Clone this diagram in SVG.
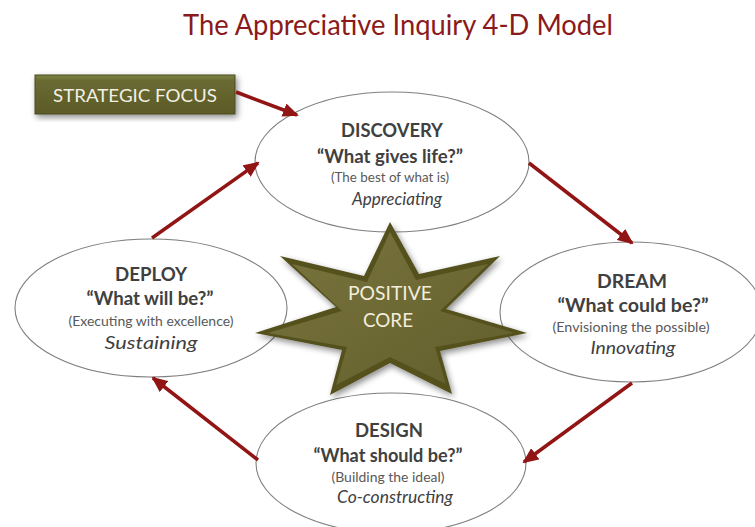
<svg xmlns="http://www.w3.org/2000/svg" width="755" height="527" viewBox="0 0 755 527">
<defs>
<style>
.t{font-family:Lato,"Open Sans","Liberation Sans",sans-serif;text-anchor:middle}
.h{font-weight:bold;font-size:19px;fill:#404040}
.q{font-weight:bold;font-size:18px;fill:#404040}
.s{font-size:13px;fill:#595959}
.i{font-style:italic;font-size:18px;fill:#404040}
.ell{fill:#fff;stroke:#7f7f7f;stroke-width:1.1}
.arr{stroke:#921515;stroke-width:3.5;fill:none;marker-end:url(#ah)}
</style>
<marker id="ah" markerUnits="userSpaceOnUse" markerWidth="16" markerHeight="14" refX="14" refY="7" orient="auto">
<path d="M0,0 L16,7 L0,14 Z" fill="#921515"/>
</marker>
<linearGradient id="box" x1="0" y1="0" x2="0" y2="1">
<stop offset="0" stop-color="#7c8544"/>
<stop offset="0.15" stop-color="#6a6a32"/>
<stop offset="1" stop-color="#5c5a28"/>
</linearGradient>
<linearGradient id="starg" x1="0" y1="0" x2="1" y2="1">
<stop offset="0" stop-color="#7a753e"/>
<stop offset="1" stop-color="#625e2c"/>
</linearGradient>
<filter id="sh" x="-20%" y="-20%" width="140%" height="140%">
<feGaussianBlur in="SourceAlpha" stdDeviation="3"/>
<feOffset dx="2" dy="3" result="b"/>
<feComponentTransfer><feFuncA type="linear" slope="0.45"/></feComponentTransfer>
<feMerge><feMergeNode/><feMergeNode in="SourceGraphic"/></feMerge>
</filter>
</defs>
<rect width="755" height="527" fill="#fff"/>
<text class="t" x="398" y="35" font-size="28" fill="#8b1a1a" textLength="430" lengthAdjust="spacingAndGlyphs">The Appreciative Inquiry 4-D Model</text>

<g id="strategic-focus">
<rect x="35" y="75" width="200" height="39" fill="url(#box)" stroke="#4a4a20" stroke-width="1" filter="url(#sh)"/>
<text class="t" x="135" y="102" font-size="18" fill="#f2f0e4" textLength="164" lengthAdjust="spacingAndGlyphs">STRATEGIC FOCUS</text>
</g>

<g id="discovery">
<ellipse class="ell" cx="392" cy="162" rx="137" ry="70"/>
<text class="t h" x="392" y="137" textLength="102" lengthAdjust="spacingAndGlyphs">DISCOVERY</text>
<text class="t q" x="390" y="163" textLength="146" lengthAdjust="spacingAndGlyphs">“What gives life?”</text>
<text class="t s" x="390" y="182" textLength="118" lengthAdjust="spacingAndGlyphs">(The best of what is)</text>
<text class="t i" x="397" y="205" textLength="90" lengthAdjust="spacingAndGlyphs">Appreciating</text>
</g>

<g id="deploy">
<ellipse class="ell" cx="151" cy="308" rx="136" ry="69"/>
<text class="t h" x="151" y="281" textLength="72" lengthAdjust="spacingAndGlyphs">DEPLOY</text>
<text class="t q" x="150" y="305" textLength="127" lengthAdjust="spacingAndGlyphs">“What will be?”</text>
<text class="t s" x="151" y="326" textLength="165" lengthAdjust="spacingAndGlyphs">(Executing with excellence)</text>
<text class="t i" x="151" y="349" textLength="93" lengthAdjust="spacingAndGlyphs">Sustaining</text>
</g>

<g id="dream">
<ellipse class="ell" cx="631" cy="312" rx="131" ry="70"/>
<text class="t h" x="632" y="288" textLength="70" lengthAdjust="spacingAndGlyphs">DREAM</text>
<text class="t q" x="633" y="312" textLength="151" lengthAdjust="spacingAndGlyphs">“What could be?”</text>
<text class="t s" x="631" y="332" textLength="157" lengthAdjust="spacingAndGlyphs">(Envisioning the possible)</text>
<text class="t i" x="633" y="354" textLength="85" lengthAdjust="spacingAndGlyphs">Innovating</text>
</g>

<g id="design">
<ellipse class="ell" cx="391" cy="463" rx="135" ry="70"/>
<text class="t h" x="389" y="437" textLength="68" lengthAdjust="spacingAndGlyphs">DESIGN</text>
<text class="t q" x="388" y="462" textLength="149" lengthAdjust="spacingAndGlyphs">“What should be?”</text>
<text class="t s" x="388" y="482" textLength="113" lengthAdjust="spacingAndGlyphs">(Building the ideal)</text>
<text class="t i" x="395" y="503" textLength="116" lengthAdjust="spacingAndGlyphs">Co-constructing</text>
</g>

<g id="positive-core">
<polygon points="390,222 419,274 500,256 446,309 527,333 440,351 452,394 390,363 330,395 342,350 255,333 336,307 280,256 364,276" fill="#55511f" filter="url(#sh)"/>
<polygon points="390,232 416,280 488,264 440,311 514,333 435,347 446,384 390,357 336,385 347,347 268,333 342,311 292,264 367,282" fill="url(#starg)"/>
<text class="t" x="390" y="300" font-size="20" fill="#f3eedb" textLength="84" lengthAdjust="spacingAndGlyphs">POSITIVE</text>
<text class="t" x="388" y="327" font-size="20" fill="#f3eedb" textLength="50" lengthAdjust="spacingAndGlyphs">CORE</text>
</g>

<g id="connectors">
<line class="arr" x1="236" y1="92" x2="297" y2="115"/>
<line class="arr" x1="529" y1="163" x2="632" y2="243"/>
<line class="arr" x1="632" y1="383" x2="524" y2="462"/>
<line class="arr" x1="258" y1="460" x2="153" y2="378"/>
<line class="arr" x1="152" y1="238" x2="258" y2="163"/>
</g>
</svg>
